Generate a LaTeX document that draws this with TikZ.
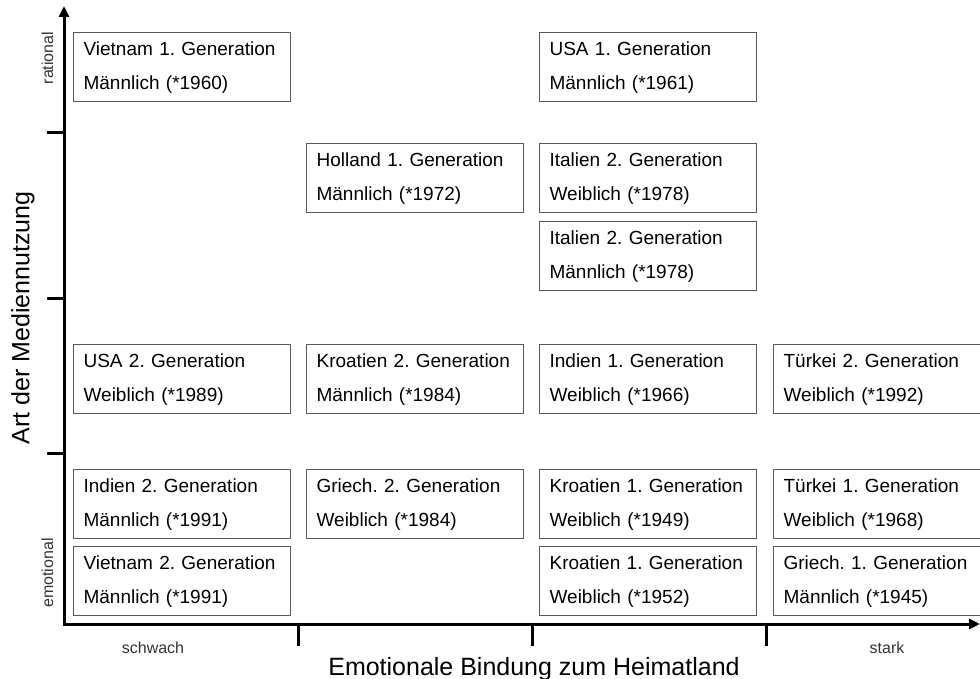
\documentclass[tikz,border=0pt]{standalone}
\usepackage{fontspec}
\setmainfont{Liberation Sans}
\usetikzlibrary{arrows.meta}

\tikzset{
  card/.style={draw=black!65, line width=1.2pt, fill=white, anchor=north west,
    minimum width=217pt, minimum height=69pt, inner xsep=10pt, inner ysep=0pt,
    text width=197pt, align=left, font=\fontsize{19}{34}\selectfont\frenchspacing},
  axis/.style={line width=3pt, line join=miter},
  ticklabel/.style={text=black!80, font=\fontsize{16}{18}\selectfont},
  axislabel/.style={font=\fontsize{25}{28}\selectfont}
}

\begin{document}
\begin{tikzpicture}[x=1pt, y=-1pt]

\path[use as bounding box, clip] (0,0) rectangle (980,679);

% ----------------------------------------------------------
% Axes
% ----------------------------------------------------------
\coordinate (origin) at (64,624);
\coordinate (ytop) at (64,6);
\coordinate (xend) at (980,624);
\draw[axis, {Triangle[length=11pt,width=10pt]}-{Triangle[length=11pt,width=10pt]}] (ytop) |- (xend);

\foreach \y in {133,298,453} {
    \draw[axis] (47,\y) -- (64,\y);
}
\foreach \x in {298,532,766} {
    \draw[axis] (\x,624) -- (\x,646);
}

% ----------------------------------------------------------
% Axis labels
% ----------------------------------------------------------
\node[axislabel, rotate=90] (ylab) at (23,318) {Art der Mediennutzung};
\node[axislabel, anchor=base] (xlab) at (534,675) {Emotionale Bindung zum Heimatland};

\node[ticklabel, anchor=base] (weak) at (153,653) {schwach};
\node[ticklabel, anchor=base] (strong) at (887,653) {stark};
\node[ticklabel, rotate=90, anchor=base] (rat) at (53,58) {rational};
\node[ticklabel, rotate=90, anchor=base] (emo) at (53,573) {emotional};

% ----------------------------------------------------------
% Interviewees
% ----------------------------------------------------------
\foreach \name/\x/\y/\herkunft/\person in {
    vnA/73/32/{Vietnam 1. Generation}/{Männlich (*1960)},
    usaA/539/32/{USA 1. Generation}/{Männlich (*1961)},
    holA/306/143/{Holland 1. Generation}/{Männlich (*1972)},
    itaW/539/143/{Italien 2. Generation}/{Weiblich (*1978)},
    itaM/539/221/{Italien 2. Generation}/{Männlich (*1978)},
    usaB/73/344/{USA 2. Generation}/{Weiblich (*1989)},
    kroB/306/344/{Kroatien 2. Generation}/{Männlich (*1984)},
    indA/539/344/{Indien 1. Generation}/{Weiblich (*1966)},
    tuerB/773/344/{Türkei 2. Generation}/{Weiblich (*1992)},
    indB/73/469/{Indien 2. Generation}/{Männlich (*1991)},
    griB/306/469/{Griech. 2. Generation}/{Weiblich (*1984)},
    kroA/539/469/{Kroatien 1. Generation}/{Weiblich (*1949)},
    tuerA/773/469/{Türkei 1. Generation}/{Weiblich (*1968)},
    vnB/73/546/{Vietnam 2. Generation}/{Männlich (*1991)},
    kroC/539/546/{Kroatien 1. Generation}/{Weiblich (*1952)},
    griA/773/546/{Griech. 1. Generation}/{Männlich (*1945)}} {
    \node[card] (\name) at (\x,\y) {\herkunft\\\person};
}

\end{tikzpicture}
\end{document}
